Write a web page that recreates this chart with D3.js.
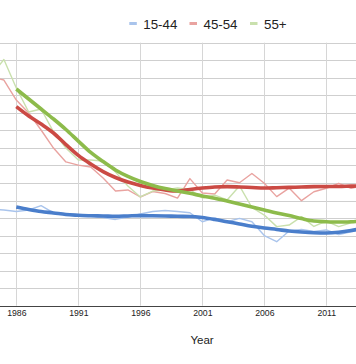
<!DOCTYPE html>
<html>
<head>
<meta charset="utf-8">
<script src="https://cdn.jsdelivr.net/npm/d3@7"></script>
<style>
  html, body { margin: 0; padding: 0; background: #fff; }
  svg { display: block; font-family: Arial, "Liberation Sans", sans-serif; }
</style>
</head>
<body>
<svg id="chart" width="356" height="364"></svg>
<script>
// ---- Data ----
const seriesNames = ["15-44", "45-54", "55+"];
const rawYears = d3.range(1984, 2015);      // yearly observations
const trendYears = d3.range(1986, 2015);    // smoothed trend
const xTickYears = [1986, 1991, 1996, 2001, 2006, 2011];
const yTicks = d3.range(0, 16);

const raw1544 = [5.51, 5.46, 5.37, 5.46, 5.71, 5.29, 5.23, 5.17, 5.12, 5.03, 4.92, 5.06, 5.23, 5.37, 5.43, 5.37, 5.30, 4.79, 5.01, 4.79, 4.98, 4.79, 4.00, 3.65, 4.26, 4.35, 4.23, 4.32, 4.06, 4.22, 4.37];
const raw4554 = [13.04, 12.87, 11.73, 10.99, 10.02, 8.99, 8.20, 8.02, 7.91, 7.28, 6.54, 6.60, 6.20, 6.51, 6.40, 6.14, 7.25, 6.43, 6.37, 7.17, 7.01, 7.54, 6.98, 6.22, 6.71, 5.99, 6.50, 6.70, 6.98, 6.70, 6.83];
const raw55 = [13.16, 14.04, 12.42, 11.05, 11.22, 9.91, 8.99, 8.31, 8.31, 8.25, 7.62, 6.83, 6.20, 6.54, 6.60, 6.71, 6.63, 6.14, 6.31, 6.03, 6.83, 5.60, 5.17, 4.51, 4.60, 5.08, 4.52, 4.83, 4.51, 4.72, 4.89];

const trend1544 = [5.63, 5.49, 5.37, 5.29, 5.20, 5.16, 5.13, 5.12, 5.10, 5.12, 5.14, 5.13, 5.12, 5.10, 5.09, 5.03, 4.92, 4.79, 4.66, 4.53, 4.43, 4.35, 4.26, 4.20, 4.16, 4.15, 4.19, 4.29, 4.43];
const trend4554 = [11.35, 10.82, 10.36, 9.85, 9.19, 8.57, 8.08, 7.65, 7.31, 7.05, 6.86, 6.71, 6.60, 6.54, 6.63, 6.71, 6.77, 6.79, 6.77, 6.74, 6.71, 6.73, 6.75, 6.77, 6.79, 6.80, 6.80, 6.82, 6.83];
const trend55 = [12.36, 11.79, 11.22, 10.65, 10.05, 9.39, 8.74, 8.22, 7.74, 7.37, 7.08, 6.86, 6.68, 6.54, 6.41, 6.26, 6.13, 5.97, 5.80, 5.63, 5.46, 5.29, 5.14, 4.97, 4.83, 4.79, 4.77, 4.79, 4.83];

const thinColors = ["#a9c4ec", "#e9a3a0", "#c9e0ad"];
const thickColors = ["#4a7ecb", "#cb4a44", "#8dbb4b"];

// ---- Layout ----
const svg = d3.select("#chart");
const W = 356, H = 364;
const plotTop = 42.7, plotBottom = 305.7;

const x = d3.scaleLinear().domain([1986, 2011]).range([16.3, 326.3]);
const y = d3.scaleLinear().domain([0, 15]).range([plotBottom, plotTop]);

// horizontal gridlines
svg.append("g").selectAll("line").data(yTicks.filter(d => d > 0)).join("line")
  .attr("x1", 0).attr("x2", W)
  .attr("y1", d => Math.round(y(d)) + 0.5).attr("y2", d => Math.round(y(d)) + 0.5)
  .attr("stroke", "#cfcfcf").attr("stroke-width", 1);

// vertical gridlines
svg.append("g").selectAll("line").data(xTickYears).join("line")
  .attr("x1", d => Math.round(x(d)) + 0.5).attr("x2", d => Math.round(x(d)) + 0.5)
  .attr("y1", plotTop).attr("y2", plotBottom)
  .attr("stroke", "#d6d6d6").attr("stroke-width", 1);

// x axis line
svg.append("line")
  .attr("x1", 0).attr("x2", W)
  .attr("y1", Math.round(plotBottom) + 0.5).attr("y2", Math.round(plotBottom) + 0.5)
  .attr("stroke", "#444").attr("stroke-width", 1);

// x tick labels via axis
const xAxis = d3.axisBottom(x).tickValues(xTickYears).tickFormat(d3.format("d")).tickSize(0).tickPadding(4);
const gx = svg.append("g").attr("transform", `translate(0,${plotBottom})`).call(xAxis);
gx.select(".domain").remove();
gx.selectAll("text").attr("font-size", 8.7).attr("fill", "#222").attr("font-family", "Arial, 'Liberation Sans', sans-serif");

// axis title
svg.append("text").attr("x", 202).attr("y", 344).attr("text-anchor", "middle")
  .attr("font-size", 11.5).attr("fill", "#222").text("Year");

// lines
const rawSets = [raw1544, raw4554, raw55];
const trendSets = [trend1544, trend4554, trend55];

const thinLine = d3.line().x((d, i) => x(rawYears[i])).y(d => y(d));
const thickLine = d3.line().x((d, i) => x(trendYears[i])).y(d => y(d)).curve(d3.curveMonotoneX);

const gLines = svg.append("g");
rawSets.forEach((vals, k) => {
  gLines.append("path").attr("d", thinLine(vals)).attr("fill", "none")
    .attr("stroke", thinColors[k]).attr("stroke-width", 1.4).attr("stroke-linejoin", "round");
});
trendSets.forEach((vals, k) => {
  gLines.append("path").attr("d", thickLine(vals)).attr("fill", "none")
    .attr("stroke", thickColors[k]).attr("stroke-width", 3.6).attr("stroke-linejoin", "round");
});

// legend
const legendX = [129.3, 189.5, 250];
const legend = svg.append("g");
seriesNames.forEach((name, k) => {
  legend.append("rect").attr("x", legendX[k]).attr("y", 22).attr("width", 7.5).attr("height", 3)
    .attr("fill", thinColors[k]);
  legend.append("text").attr("x", legendX[k] + 14).attr("y", 29)
    .attr("font-size", 13.3).attr("fill", "#222").text(name);
});
</script>
</body>
</html>
